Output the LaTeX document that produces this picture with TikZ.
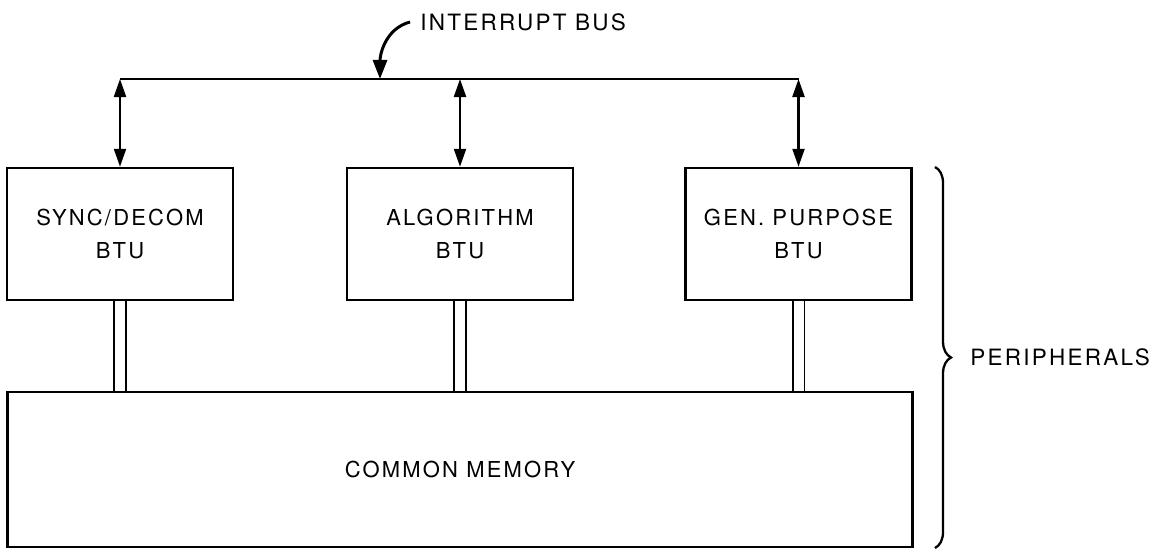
\documentclass[tikz,border=0pt]{standalone}
\usepackage{fontspec}
\setmainfont{TeX Gyre Heros}[LetterSpace=10]
\usetikzlibrary{positioning}
\usetikzlibrary{arrows.meta}
\usetikzlibrary{decorations.pathreplacing}
\tikzset{btu/.style={draw,line width=1.4pt,minimum width=4.52cm,minimum height=2.64cm,align=center,font=\fontsize{12.5}{19}\selectfont}}
\tikzset{lbl/.style={inner sep=0pt,font=\fontsize{12.8}{14}\selectfont}}
\tikzset{>={Triangle[length=0.36cm,width=0.24cm]}}

\begin{document}
\begin{tikzpicture}
\useasboundingbox (0,0) rectangle (23.22,-11);
\begin{scope}[on grid]
\node[btu] (sync) at (2.4,-4.68) {SYNC/DECOM\\BTU};
\node[btu] (algo) [right = 6.8 of sync] {ALGORITHM\\BTU};
\node[btu] (gp) [right = 6.77 of algo] {GEN. PURPOSE\\BTU};
\node[btu,minimum width=18.1cm,minimum height=3.1cm] (mem) [below = 4.71 of algo] {COMMON MEMORY};

\coordinate (bus) at (7.6,-1.58);
\node[lbl,anchor=west] (ibus) at (8.4,-0.44) {INTERRUPT BUS};

\draw[line width=1.3pt] (sync.north |- bus) -- (gp.north |- bus);
\draw[<->,line width=1.3pt] (sync.north |- bus) -- (sync.north);
\draw[<->,line width=1.3pt] (algo.north |- bus) -- (algo.north);
\draw[<->,line width=1.3pt] (gp.north |- bus) -- (gp.north);
\draw[-{Triangle[length=0.38cm,width=0.28cm]},line width=1.7pt] ([xshift=-0.2cm]ibus.west) to[out=195,in=90] (bus);

\draw[double,double distance=0.2cm,line width=0.9pt] (sync.south) -- (sync.south |- mem.north);
\draw[double,double distance=0.2cm,line width=0.9pt] (algo.south) -- (algo.south |- mem.north);
\draw[double,double distance=0.2cm,line width=0.9pt] (gp.south) -- (gp.south |- mem.north);

\coordinate (brtop) at (18.7,-3.34);
\coordinate (brbot) at (18.7,-10.96);
\draw[decorate,decoration={brace,amplitude=0.32cm},line width=1.3pt] (brtop) -- (brbot);
\node[lbl,anchor=west] (peri) at (19.4,-7.14) {PERIPHERALS};
\end{scope}
\end{tikzpicture}
\end{document}
